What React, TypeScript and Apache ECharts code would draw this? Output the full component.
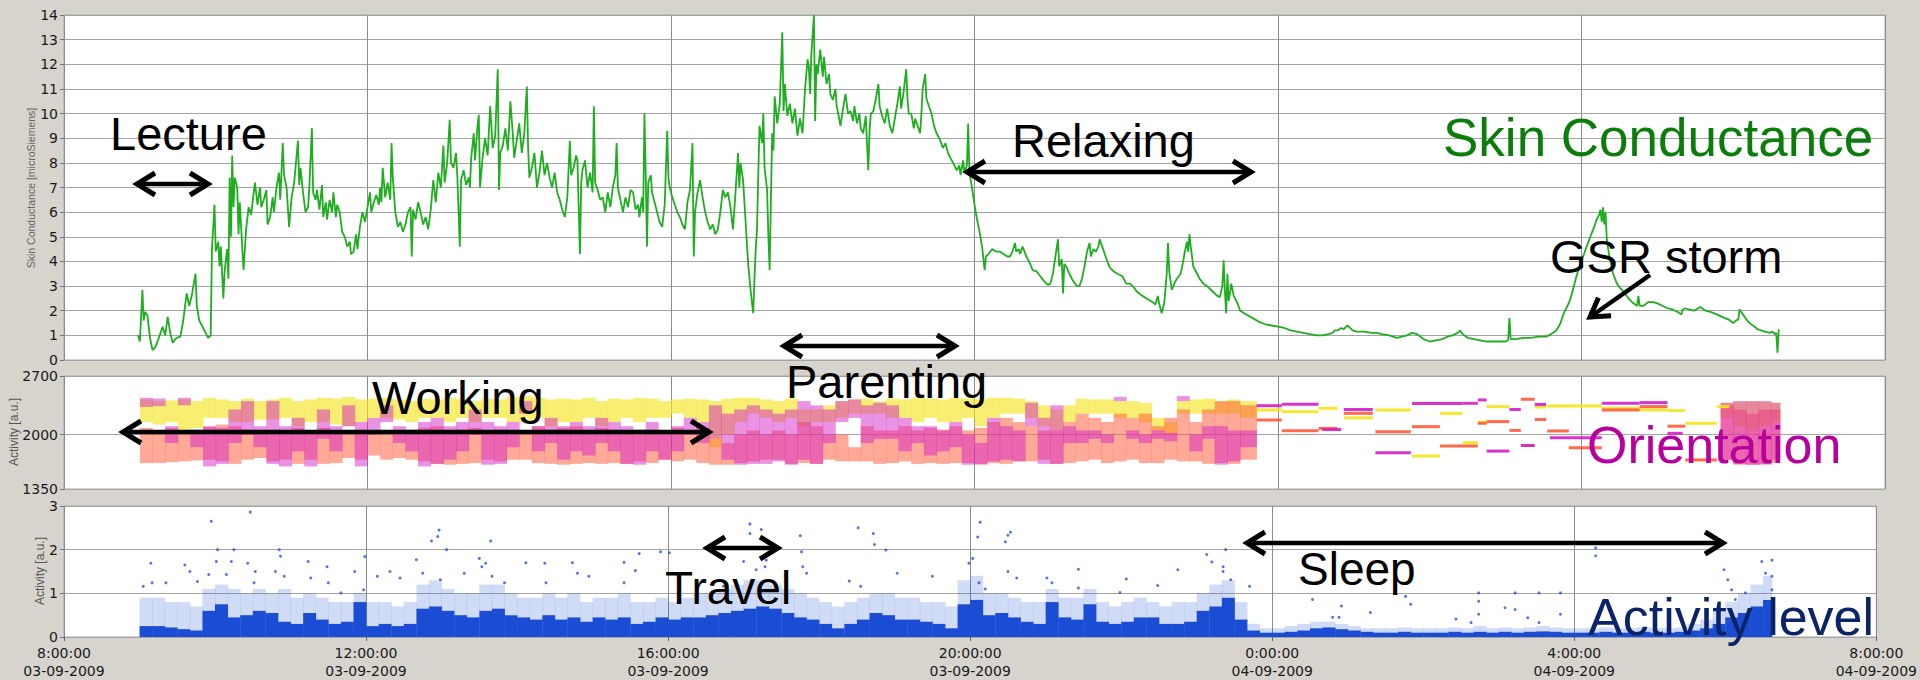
import React, { useEffect, useRef } from "react";
import * as echarts from "echarts";

// ---------- axes ----------
const xTickMinutes = [0, 240, 480, 720, 960, 1200, 1440]; // minutes after 03-09-2009 8:00
const orientTicks = [1350, 2000, 2700];

// ---------- skin conductance (minute after 8:00, microSiemens) ----------
const scMin = [58.5,60,62,63,64,66,68,70,72,75,78,80,82,84,86,89,92,94,96,97,99,101,104,105,107,108,111,114,116,117,119,120,122,123,124,126,127,129,130,131,132,133,134,135,137,138,139,141,142,144,146,148,150,151,153,155,156,158,160,161,163,165,166,168,170,171,173,174,176,178,180,182,185,186,187,189,191,193,194,196,197,199,200,202,204,205,207,208,210,212,213,215,216,218,220,222,224,226,227,229,231,232,234,236,238,240,242,243,245,247,249,250,251,252,254,256,258,259,260,262,264,266,268,270,272,274,275,276,278,280,282,284,286,288,290,292,294,296,298,300,301,303,305,306,308,310,311,313,314,316,318,320,321,322,324,325,327,328,329,331,333,335,337,339,341,343,344,345,347,349,351,353,355,356,358,360,362,364,366,367,368,370,372,374,376,378,380,382,384,386,388,390,392,394,396,398,400,401,403,405,406,408,409,410,412,414,416,418,419,420,422,424,426,428,430,432,434,436,437,438,440,442,444,446,448,450,452,454,455,457,458,459,460,461,462,464,465,467,469,471,473,475,477,478,479,481,483,485,487,489,491,493,495,497,498,499,501,503,505,507,509,511,513,515,517,519,521,523,525,527,529,531,533,534,535,537,539,541,543,545,546,547,548,549,550,552,553,554,556,557,558,559,560,561,562,564,566,568,569,570,572,574,576,578,580,582,584,586,588,589,590,591,593,594,595,596,598,600,601,603,605,606,608,610,611,613,614,616,618,620,622,624,625,627,629,630,632,634,636,637,638,640,642,644,645,647,649,651,653,655,657,659,661,662,664,666,667,668,670,672,673,675,677,678,679,681,682,684,686,688,690,693,695,697,699,701,703,706,708,709,711,712,714,715,716,718,720,722,724,726,728,729,731,734,737,740,743,746,748,750,752,753,755,756,758,761,764,766,769,772,775,778,780,782,784,786,787,789,790,791,793,795,798,801,803,805,807,809,811,812,814,816,818,819,821,823,825,827,830,833,837,840,843,846,848,850,853,856,859,862,863,865,866,868,870,872,873,874,876,878,880,883,885,886,888,889,890,891,893,895,898,901,905,909,912,914,916,917,918,919,920,921,922,923,925,928,930,935,940,945,950,955,960,965,970,975,980,985,991,995,1000,1003,1005,1007,1010,1012,1015,1017,1019,1022,1028,1034,1038,1042,1048,1054,1058,1062,1066,1070,1075,1080,1085,1090,1094,1098,1102,1104,1106,1110,1115,1120,1125,1130,1135,1140,1142,1143,1144,1148,1154,1160,1166,1172,1176,1180,1183,1186,1189,1191,1193,1196,1199,1202,1204,1207,1210,1212,1214,1215,1216,1217,1218,1219,1220,1222,1225,1228,1230,1232,1235,1238,1241,1244,1245,1246,1249,1253,1257,1260,1264,1268,1272,1276,1279,1280,1282,1285,1289,1294,1298,1302,1307,1311,1316,1320,1322,1324,1325,1327,1329,1331,1334,1337,1339,1342,1345,1349,1351,1353,1354,1355,1356];
const scVal = [1.0,0.75,2.84,1.6,1.95,1.8,0.9,0.4,0.5,0.9,1.35,1.0,1.75,1.1,0.7,0.9,0.95,1.5,2.3,2.7,2.2,2.6,3.5,2.2,1.6,1.5,1.2,0.9,1.0,4.5,6.3,4.4,4.8,3.8,4.6,2.5,3.6,4.5,3.3,7.4,5.0,8.3,6.2,7.4,7.0,5.1,6.4,4.5,3.65,5.3,6.2,5.9,6.8,7.2,6.3,7.0,6.2,6.5,6.9,5.5,5.8,6.6,6.0,7.0,7.6,6.5,8.8,7.5,7.0,5.4,6.6,7.2,8.9,7.1,7.8,6.8,6.0,6.2,7.0,9.4,6.8,6.5,6.9,6.1,7.1,5.8,6.4,5.7,6.5,6.0,6.8,5.8,6.3,6.0,5.2,5.0,4.6,4.8,4.3,4.4,5.1,4.5,5.4,6.0,5.6,6.2,6.8,6.0,6.4,6.7,6.3,7.0,6.4,7.8,6.6,7.2,6.5,8.8,7.4,6.0,5.4,5.6,5.2,5.5,6.0,6.2,4.2,6.1,5.7,6.4,6.0,5.5,5.8,5.3,6.1,7.3,6.4,7.6,7.0,8.7,7.2,8.0,9.75,8.0,7.8,8.4,7.5,4.6,7.3,7.7,7.1,7.4,7.0,8.2,9.2,8.1,9.5,9.95,7.0,8.2,9.0,8.3,10.3,8.6,9.1,11.8,6.9,8.4,8.7,9.4,8.5,10.5,9.1,8.2,8.9,9.6,8.4,9.2,11.1,8.6,7.4,7.8,8.4,7.0,7.6,8.5,7.5,8.0,7.4,7.0,7.6,6.8,6.5,6.1,5.8,6.6,8.9,7.5,7.8,8.3,8.1,4.3,7.2,7.7,8.1,7.0,7.6,6.8,10.3,7.2,6.9,6.5,6.6,6.0,6.8,6.2,7.0,7.5,8.8,7.0,6.5,6.0,6.6,6.2,6.9,6.8,6.1,6.3,5.8,6.6,6.0,10.0,7.6,4.6,7.2,7.5,6.8,6.4,6.0,5.6,5.4,6.3,9.3,7.4,7.0,6.6,6.3,6.0,5.8,5.5,5.3,6.4,6.9,8.8,4.2,6.0,6.8,7.3,6.6,6.0,5.6,5.3,5.5,5.1,5.3,6.0,6.9,6.6,6.8,6.2,5.3,6.8,8.4,7.0,8.0,7.3,5.6,3.9,2.8,1.9,3.3,4.5,5.3,7.5,9.5,8.8,10.0,7.8,6.9,5.0,3.65,6.5,9.2,8.5,10.7,9.6,10.4,13.3,10.1,11.2,9.9,10.4,9.6,10.2,9.1,9.8,9.2,11.0,12.2,11.9,10.8,12.4,14.0,9.7,12.0,11.6,12.6,11.5,12.3,11.2,11.6,10.8,10.55,11.0,10.3,9.8,9.5,10.2,10.8,10.0,10.1,9.7,10.3,9.6,10.0,9.4,9.2,9.9,7.7,9.3,10.0,10.1,10.6,11.2,10.3,9.9,9.6,10.2,9.5,9.2,9.8,10.4,11.1,10.2,10.9,11.8,10.6,10.0,10.0,9.4,9.8,9.5,9.2,10.0,11.0,11.6,10.6,10.3,10.0,9.5,9.2,8.9,8.6,8.8,8.4,8.2,8.0,7.7,7.9,7.5,8.1,7.6,7.9,9.6,7.6,7.0,6.3,5.7,5.2,4.6,3.65,4.2,4.3,4.5,4.4,4.4,4.3,4.2,4.2,4.4,4.75,4.4,4.5,4.3,4.6,4.2,3.9,3.65,3.6,3.4,3.2,3.05,3.1,3.5,4.2,4.9,3.8,4.1,2.7,3.9,3.75,3.5,3.2,3.0,3.0,3.3,3.8,4.4,4.75,4.2,4.5,4.4,4.6,4.9,4.6,4.3,4.0,3.75,3.6,3.5,3.4,3.1,3.1,2.95,2.8,2.7,2.6,2.5,2.4,2.3,2.25,2.6,2.3,1.9,2.3,3.5,4.75,3.6,2.85,3.1,3.3,3.5,4.0,4.3,4.8,4.4,5.1,4.6,3.8,3.6,3.3,3.1,2.95,2.75,2.6,2.55,3.0,4.05,2.8,1.9,3.5,2.4,2.7,3.1,2.6,2.3,2.0,1.85,1.7,1.55,1.45,1.4,1.35,1.3,1.2,1.15,1.1,1.05,1.0,1.0,1.05,1.1,1.2,1.2,1.3,1.25,1.4,1.3,1.2,1.15,1.15,1.1,1.1,1.05,1.0,0.9,0.95,1.0,1.1,1.05,0.85,0.75,0.8,0.85,0.95,1.0,1.1,1.2,1.05,0.9,0.85,0.8,0.75,0.75,0.75,0.75,0.8,1.7,0.85,0.85,0.9,0.9,0.95,0.95,1.05,1.2,1.45,1.9,2.2,2.45,2.8,3.4,3.9,4.3,4.6,5.0,5.4,5.7,5.9,6.1,5.6,6.2,5.5,6.0,4.9,4.2,3.5,3.1,2.95,2.85,2.65,2.45,2.3,2.2,2.6,2.2,2.2,2.35,2.35,2.3,2.2,2.1,2.05,1.95,1.85,2.05,2.1,2.05,2.0,2.15,2.0,1.95,1.85,1.75,1.65,1.5,1.6,1.65,2.05,1.9,1.75,1.6,1.45,1.35,1.25,1.2,1.15,1.1,1.15,1.05,1.1,0.3,1.25];

// ---------- orientation clouds: 10-minute bins, [low, high] extent of each colour ----------
const orBinStart = [...Array.from({ length: 88 }, (_, i) => 60 + i * 10), 1310, 1320, 1330, 1340, 1350];
const orBinEndCap = { 930: 943, 1350: 1357 } as Record<number, number>;
const orYellow = [[2150,2420],[2120,2400],[2150,2410],[2050,2420],[2080,2400],[2200,2440],[2200,2420],[2150,2400],[2150,2430],[2180,2400],[2180,2420],[2200,2440],[2100,2400],[2150,2420],[2150,2440],[2120,2430],[2100,2450],[2150,2420],[2200,2430],[2200,2440],[2180,2420],[2150,2400],[2200,2430],[2200,2420],[2150,2440],[2200,2420],[2150,2400],[2200,2430],[2200,2420],[2150,2450],[2150,2460],[2200,2440],[2100,2420],[2150,2430],[2150,2420],[2200,2440],[2100,2400],[2150,2430],[2200,2420],[2150,2440],[2200,2430],[2200,2400],[2250,2420],[2200,2430],[2150,2420],[1850,2400],[2000,2430],[2150,2440],[2250,2440],[2200,2420],[2150,2400],[2200,2430],[2100,2300],[2150,2300],[2150,2350],[2200,2400],[2250,2420],[2250,2430],[2250,2400],[2200,2430],[2200,2420],[2150,2440],[2200,2430],[2150,2420],[2150,2440],[2200,2430],[2100,2420],[2200,2440],[2250,2440],[2250,2430],[2200,2400],[2100,2350],[2050,2300],[2150,2350],[2250,2430],[2250,2420],[2250,2420],[2200,2400],[2200,2400],[2150,2380],[2050,2200],[2000,2150],[2250,2400],[2250,2420],[2250,2430],[2250,2400],[2250,2420],[2200,2400],[2200,2380],[2100,2390],[2050,2400],[2100,2390],[2150,2380]];
const orOrange = [[1660,2080],[1660,2050],[1670,2080],[1680,2030],[1690,2060],[1700,2090],[1680,2120],[1650,2100],[1700,2060],[1720,2050],[1680,2060],[1700,2000],[1650,2080],[1700,2050],[1650,2080],[1660,2020],[1720,2050],[1700,2050],[1750,2050],[1700,2000],[1720,2050],[1700,2060],[1680,2080],[1650,2100],[1640,2050],[1650,2060],[1660,2080],[1700,2050],[1680,2060],[1700,2050],[1700,2050],[1660,2100],[1650,2060],[1640,2080],[1650,2100],[1660,2050],[1650,2080],[1660,2060],[1650,2050],[1680,2060],[1660,2060],[1700,2050],[1680,2080],[1700,2050],[1660,2080],[1640,1950],[1640,1900],[1660,2000],[1680,2050],[1700,2000],[1700,2050],[1650,2000],[1660,2150],[1650,2100],[1700,2000],[1680,2000],[1680,1850],[1680,2100],[1650,2050],[1660,2050],[1680,2100],[1650,2050],[1660,2080],[1650,2060],[1660,2100],[1660,2050],[1640,2080],[1660,2150],[1650,2200],[1680,2150],[1680,2100],[1700,2050],[1650,2050],[1660,2150],[1680,2250],[1700,2200],[1660,2150],[1680,2250],[1700,2200],[1660,2250],[1660,2100],[1700,2200],[1680,2300],[1680,2150],[1650,2300],[1660,2400],[1650,2400],[1700,2350],[1700,2350],[1640,2300],[1640,2250],[1650,2300],[1660,2300]];
const orMagenta = [[2330,2440],[2340,2430],[1900,2100],[2350,2440],[1850,2050],[1620,2100],[1650,2080],[1900,2300],[2000,2400],[1850,2100],[1650,2400],[1620,2100],[1800,2200],[1620,2050],[1950,2300],[1800,2100],[2100,2350],[1620,2150],[2000,2200],[2150,2350],[1900,2100],[1800,2050],[1620,2150],[1650,2200],[1700,2100],[1800,2150],[2000,2300],[1640,2150],[1650,2100],[1850,2150],[2250,2400],[1800,2100],[1900,2200],[1700,2100],[1800,2150],[1750,2100],[1900,2200],[1800,2150],[1650,2100],[1640,2000],[1800,2150],[1700,2050],[1800,2100],[2000,2200],[1900,2150],[1950,2350],[1700,2250],[1640,2300],[1650,2350],[1650,2300],[1680,2250],[1640,2300],[1700,2400],[1650,2350],[1900,2300],[2150,2400],[2200,2420],[1900,2350],[1950,2380],[1950,2350],[1800,2200],[1900,2100],[1750,2100],[1800,2050],[1850,2150],[1640,2000],[1650,1900],[1680,2200],[1700,2100],[1680,2050],[2100,2380],[1650,2200],[1650,2350],[1900,2100],[1900,2050],[1950,2050],[1900,2000],[2400,2450],[1950,2050],[1900,2000],[1950,2050],[1920,2020],[2400,2460],[1800,2000],[1950,2100],[1640,2100],[1680,2050],[1850,2050],[1700,2380],[1650,2400],[1640,2400],[1640,2400],[1700,2380]];

// ---------- orientation at night: held levels [start minute, end minute, value] ----------
const nightMagenta = [[943,963,2345],[963,992,2362],[995,1010,2060],[1012,1035,2300],[1037,1065,1783],[1066,1106,2370],[1106,1118,2374],[1118,1125,2414],[1125,1143,1803],[1143,1152,2300],[1152,1163,1870],[1163,1172,2360],[1175,1216,1963],[1216,1246,2374],[1246,1268,2382],[1268,1280,2015]];
const nightYellow = [[943,963,2294],[963,992,2274],[992,1007,2314],[1012,1035,2200],[1037,1065,2294],[1066,1088,1744],[1088,1106,2254],[1106,1118,1903],[1118,1125,2150],[1125,1143,2334],[1152,1163,1870],[1163,1172,2330],[1173,1216,2342],[1216,1246,2314],[1246,1268,2294],[1268,1282,2287],[1282,1307,2135],[1307,1317,2334]];
const nightRed = [[943,963,2174],[963,992,2046],[992,1007,2074],[1012,1035,2254],[1037,1065,2035],[1066,1088,2095],[1088,1118,1863],[1118,1125,2135],[1125,1143,2155],[1143,1152,2050],[1152,1163,2422],[1163,1172,2180],[1173,1190,2043],[1190,1216,1843],[1216,1246,2294],[1246,1268,2334],[1268,1282,2100],[1282,1307,1697]];

// ---------- activity level: 10-minute bins, dense band top and sparse-dot top ----------
const actBinStart = Array.from({ length: 130 }, (_, i) => 60 + i * 10);
const actDense = [0.25,0.25,0.22,0.18,0.15,0.6,0.75,0.45,0.5,0.6,0.55,0.35,0.3,0.55,0.4,0.3,0.35,0.8,0.25,0.3,0.25,0.3,0.65,0.7,0.6,0.5,0.45,0.6,0.65,0.5,0.45,0.4,0.5,0.4,0.45,0.35,0.45,0.4,0.45,0.3,0.35,0.45,0.4,0.45,0.45,0.5,0.55,0.6,0.65,0.7,0.65,0.55,0.45,0.4,0.3,0.2,0.3,0.4,0.55,0.5,0.4,0.4,0.35,0.3,0.2,0.75,0.85,0.5,0.55,0.45,0.35,0.3,0.8,0.45,0.4,0.75,0.35,0.3,0.35,0.45,0.45,0.3,0.3,0.35,0.6,0.7,0.9,0.4,
  0.15,0.1,0.1,0.12,0.15,0.2,0.22,0.18,0.15,0.12,0.1,0.1,0.12,0.1,0.1,0.1,0.12,0.1,0.12,0.1,0.12,0.1,0.12,0.13,0.12,0.1,0.1,0.1,0.12,0.1,0.1,0.12,0.1,0.1,0.12,0.15,0.2,0.3,0.45,0.55,0.7,0.85];
const actSparse = [0.9,0.9,0.8,0.8,0.7,1.1,1.2,1.1,1.0,1.1,1.0,1.1,0.9,1.0,0.9,0.8,0.8,1.0,0.8,0.8,0.7,0.8,1.2,1.3,1.1,1.0,1.0,1.2,1.2,1.0,0.9,0.9,1.0,0.9,1.0,0.8,0.9,0.9,1.0,0.8,0.8,0.9,0.8,0.9,1.0,1.0,1.1,1.2,1.3,1.3,1.2,1.1,1.0,0.9,0.8,0.7,0.8,0.9,1.0,1.0,0.9,0.9,0.8,0.8,0.7,1.3,1.4,1.0,1.0,0.9,0.8,0.8,1.1,0.9,0.9,1.1,0.8,0.7,0.8,0.9,0.8,0.7,0.8,0.8,1.0,1.2,1.3,0.8,
  0.3,0.2,0.2,0.25,0.3,0.35,0.35,0.3,0.25,0.2,0.2,0.2,0.22,0.2,0.2,0.2,0.22,0.2,0.25,0.2,0.22,0.2,0.22,0.25,0.22,0.2,0.2,0.2,0.22,0.2,0.2,0.22,0.2,0.2,0.22,0.3,0.4,0.6,0.8,1.0,1.2,1.4];
const actBinEndCap = { 1350: 1357 } as Record<number, number>;
// isolated high-activity samples [minute, value]
const actOutliers = [[117,2.65],[148,2.86],[69,1.69],[63,1.16],[70,1.24],[81,1.24],[96,1.65],[100,1.5],[106,1.27],[122,2.0],[121,1.73],[115,1.43],[135,2.0],[133,1.73],[129,1.43],[146,1.69],[152,1.5],[151,1.24],[171,2.0],[172,1.85],[168,1.5],[175,1.39],[194,1.73],[196,1.35],[209,1.61],[210,1.24],[220,1.01],[231,1.5],[239,1.84],[238,1.08],[249,1.39],[259,1.5],[267,1.35],[280,1.77],[285,1.46],[292,2.2],[297,2.3],[298,2.45],[304,2.0],[299,1.31],[318,1.46],[330,1.8],[332,1.61],[339,2.2],[335,1.69],[340,1.39],[350,1.24],[367,1.7],[382,1.69],[383,1.24],
  [545,2.59],[554,2.46],[545,2.37],[585,2.32],[631,2.5],[643,2.37],[644,2.12],[457,1.91],[474,1.95],[481,1.93],[404,1.7],[445,1.71],[454,1.52],[408,1.46],[417,1.39],[540,1.73],[550,1.54],[558,1.76],[557,1.61],[586,1.95],[587,1.61],[590,1.46],[653,1.99],[662,1.46],[690,1.39],[722,1.8],[728,2.63],[726,2.29],[727,1.24],[719,1.69],[624,1.28],[633,1.16],[445,1.24],[524,1.16],
  [752,2.4],[750,2.33],[748,2.18],[750,1.5],[757,1.35],[781,1.35],[785,1.24],[806,1.55],[806,1.12],[844,1.33],[869,1.18],[885,1.54],[908,1.89],[912,1.72],[923,2.0],[921,1.61],[921,1.5],[927,1.31],[942,1.16],[839,1.02],[732,1.1],
  [992,0.86],[1015,0.71],[1038,0.56],[1066,0.93],[1070,0.75],[1008,0.45],[1013,0.45],[1124,1.01],[1124,0.82],[1124,0.52],[1145,0.67],[1153,1.01],[1153,0.63],[1163,0.44],[1172,1.01],[1172,0.33],[1189,1.01],[1189,0.52],[1217,2.04],[1217,1.86],[1106,0.41],[1118,0.33],
  [1319,1.54],[1322,1.31],[1325,1.08],[1349,1.73],[1357,1.76],[1352,1.46],[1357,1.39],[1357,1.08],[1336,1.01],[1328,0.86],[1341,0.56]];

// ---------- annotations ----------
const annotations = [
  { text: "Lecture", x: 110, y: 133, size: 47, color: "#000" },
  { text: "Relaxing", x: 1012, y: 140, size: 47, color: "#000" },
  { text: "Skin Conductance", x: 1443, y: 137, size: 53, color: "#0b7d0b" },
  { text: "GSR storm", x: 1550, y: 256, size: 47, color: "#000" },
  { text: "Parenting", x: 786, y: 381, size: 47, color: "#000" },
  { text: "Working", x: 372, y: 397, size: 47, color: "#000" },
  { text: "Orientation", x: 1587, y: 445, size: 52, color: "#b8009e" },
  { text: "Travel", x: 665, y: 588, size: 46, color: "#000" },
  { text: "Sleep", x: 1298, y: 569, size: 46, color: "#000" },
  { text: "Activity level", x: 1588, y: 617, size: 52, color: "#0b2468" },
];
const arrows = [
  { from: [137, 184], to: [208, 184], both: true },
  { from: [967, 172], to: [1251, 172], both: true },
  { from: [784, 346], to: [955, 346], both: true },
  { from: [123, 432], to: [709, 432], both: true },
  { from: [707, 548], to: [778, 548], both: true },
  { from: [1247, 543], to: [1723, 543], both: true },
  { from: [1650, 275], to: [1590, 317], both: false },
];

const YEL = "#f4e31c";
const ORA = "#ff5a3a";
const MAG = "#d41ec8";
const BLUE = "#1a4cd4";

function head(tip: number[], back: number[]) {
  const dx = tip[0] - back[0];
  const dy = tip[1] - back[1];
  const len = Math.hypot(dx, dy) || 1;
  const ux = dx / len, uy = dy / len;
  const L = 18, W = 11;
  return {
    type: "polyline",
    z: 101,
    shape: { points: [[tip[0] - L * ux - W * uy, tip[1] - L * uy + W * ux], [tip[0], tip[1]], [tip[0] - L * ux + W * uy, tip[1] - L * uy - W * ux]] },
    style: { stroke: "#000", lineWidth: 5, fill: null, lineJoin: "miter", lineCap: "butt" },
  };
}

function xLabel(v: number) {
  const h = (8 + v / 60) % 24;
  const d = v >= 960 ? "04" : "03";
  return `${h}:00:00\n${d}-09-2009`;
}

export default function App() {
  const ref = useRef<HTMLDivElement>(null);
  useEffect(() => {
    document.body.style.margin = "0";
    if (!ref.current) return;
    const chart = echarts.init(ref.current, undefined, { renderer: "svg" });

    const cloudData: any[] = [];
    orBinStart.forEach((s, i) => {
      const e = orBinEndCap[s] ?? s + 10;
      cloudData.push([s, e, orYellow[i][0], orYellow[i][1], 0]);
    });
    orBinStart.forEach((s, i) => {
      const e = orBinEndCap[s] ?? s + 10;
      cloudData.push([s, e, orOrange[i][0], orOrange[i][1], 1]);
    });
    orBinStart.forEach((s, i) => {
      const e = orBinEndCap[s] ?? s + 10;
      cloudData.push([s, e, orMagenta[i][0], orMagenta[i][1], 2]);
    });
    const stepData: any[] = [];
    nightYellow.forEach((d) => stepData.push([d[0], d[1], d[2], d[2], 0]));
    nightRed.forEach((d) => stepData.push([d[0], d[1], d[2], d[2], 1]));
    nightMagenta.forEach((d) => stepData.push([d[0], d[1], d[2], d[2], 2]));

    const actData: any[] = [];
    actBinStart.forEach((s, i) => {
      const e = actBinEndCap[s] ?? s + 10;
      actData.push([s, e, actDense[i], actSparse[i], 1]);
    });
    actBinStart.forEach((s, i) => {
      const e = actBinEndCap[s] ?? s + 10;
      actData.push([s, e, 0, actDense[i], 0]);
    });

    const cloudColors = [YEL, ORA, MAG];
    const cloudOpacity = [0.62, 0.52, 0.48];

    const font = "DejaVu Sans";
    const gridCommon = { left: 64, right: 35, show: true, backgroundColor: "#ffffff", borderColor: "#a8a8a8", borderWidth: 1 };
    const xCommon = {
      type: "value", min: 0, max: 1440, interval: 240,
      axisLine: { show: false },
      splitLine: { show: true, lineStyle: { color: "#8c8c8c", width: 1 } },
    };

    const graphics: any[] = [];
    annotations.forEach((a) => {
      graphics.push({
        type: "text", x: a.x, y: a.y, z: 100,
        style: { text: a.text, fontSize: a.size, fontFamily: "Liberation Sans, Arial", fill: a.color, align: "left", verticalAlign: "middle" },
      });
    });
    arrows.forEach((a) => {
      graphics.push({ type: "polyline", z: 101, shape: { points: [a.from, a.to] }, style: { stroke: "#000", lineWidth: 4.5, fill: null } });
      graphics.push(head(a.to, a.from));
      if (a.both) graphics.push(head(a.from, a.to));
    });
    graphics.push({ type: "text", x: 31, y: 188, rotation: Math.PI / 2, z: 100, style: { text: "Skin Conductance [microSiemens]", fontSize: 10.5, fontFamily: "Liberation Sans, Arial", fill: "#666", align: "center", verticalAlign: "middle" } });
    graphics.push({ type: "text", x: 14, y: 432, rotation: Math.PI / 2, z: 100, style: { text: "Activity [a.u.]", fontSize: 12, fontFamily: "Liberation Sans, Arial", fill: "#555", align: "center", verticalAlign: "middle" } });
    graphics.push({ type: "text", x: 40, y: 571, rotation: Math.PI / 2, z: 100, style: { text: "Activity [a.u.]", fontSize: 12, fontFamily: "Liberation Sans, Arial", fill: "#555", align: "center", verticalAlign: "middle" } });

    const yLabel = { fontSize: 14, fontFamily: font, color: "#1a1a1a", margin: 6, formatter: (v: number) => String(v) };
    const yTick = { show: true, length: 4, lineStyle: { color: "#777" } };

    chart.setOption({
      animation: false,
      backgroundColor: "#d7d4ce",
      grid: [
        { ...gridCommon, top: 15, height: 345 },
        { ...gridCommon, top: 376, height: 113 },
        { ...gridCommon, top: 506, height: 132 },
      ],
      xAxis: [
        { ...xCommon, gridIndex: 0, axisLabel: { show: false }, axisTick: { show: false } },
        { ...xCommon, gridIndex: 1, axisLabel: { show: false }, axisTick: { show: false } },
        {
          ...xCommon, gridIndex: 2,
          axisTick: { show: true, length: 4, lineStyle: { color: "#666" }, customValues: xTickMinutes },
          axisLabel: { show: true, formatter: xLabel, fontSize: 14, fontFamily: font, color: "#1a1a1a", lineHeight: 18, margin: 7, customValues: xTickMinutes },
        },
      ],
      yAxis: [
        { type: "value", gridIndex: 0, min: 0, max: 14, interval: 1, axisLine: { show: false }, axisTick: yTick, axisLabel: yLabel, splitLine: { show: true, lineStyle: { color: "#a4a4a4" } } },
        {
          type: "value", gridIndex: 1, min: 1350, max: 2700, axisLine: { show: false },
          axisTick: { ...yTick, customValues: orientTicks }, axisLabel: { ...yLabel, customValues: orientTicks },
          splitLine: { show: true, lineStyle: { color: "#a4a4a4" } },
        },
        { type: "value", gridIndex: 2, min: 0, max: 3, interval: 1, axisLine: { show: false }, axisTick: yTick, axisLabel: yLabel, splitLine: { show: true, lineStyle: { color: "#a4a4a4" } } },
      ],
      series: [
        {
          type: "line", xAxisIndex: 0, yAxisIndex: 0, showSymbol: false, symbol: "none",
          data: scMin.map((m, i) => [m, scVal[i]]),
          lineStyle: { color: "#1fae1f", width: 1.8 }, z: 5,
        },
        {
          type: "custom", xAxisIndex: 1, yAxisIndex: 1, data: cloudData, encode: { x: [0, 1], y: [2, 3] }, clip: true,
          renderItem: (_p: any, api: any) => {
            const p1 = api.coord([api.value(0), api.value(3)]);
            const p2 = api.coord([api.value(1), api.value(2)]);
            const c = api.value(4);
            return { type: "rect", shape: { x: p1[0], y: p1[1], width: p2[0] - p1[0] + 0.4, height: Math.max(p2[1] - p1[1], 1) }, style: { fill: cloudColors[c], opacity: cloudOpacity[c] } };
          },
        },
        {
          type: "custom", xAxisIndex: 1, yAxisIndex: 1, data: stepData, encode: { x: [0, 1], y: [2, 3] }, clip: true,
          renderItem: (_p: any, api: any) => {
            const p1 = api.coord([api.value(0), api.value(2)]);
            const p2 = api.coord([api.value(1), api.value(2)]);
            const c = api.value(4);
            return { type: "rect", shape: { x: p1[0], y: p1[1] - 1.5, width: p2[0] - p1[0], height: 3 }, style: { fill: cloudColors[c], opacity: 0.9 } };
          },
        },
        {
          type: "custom", xAxisIndex: 2, yAxisIndex: 2, data: actData, encode: { x: [0, 1], y: [2, 3] }, clip: true,
          renderItem: (_p: any, api: any) => {
            const p1 = api.coord([api.value(0), api.value(3)]);
            const p2 = api.coord([api.value(1), api.value(2)]);
            const sparse = api.value(4) === 1;
            return { type: "rect", shape: { x: p1[0], y: p1[1], width: p2[0] - p1[0] + 0.4, height: Math.max(p2[1] - p1[1], 0) }, style: { fill: sparse ? "rgba(40,90,215,0.22)" : BLUE } };
          },
        },
        {
          type: "scatter", xAxisIndex: 2, yAxisIndex: 2, data: actOutliers, symbol: "circle", symbolSize: 3,
          itemStyle: { color: "#2c56c8" }, z: 6,
        },
      ],
      graphic: graphics,
    });
    return () => chart.dispose();
  }, []);
  return <div ref={ref} style={{ width: 1920, height: 680 }} />;
}
